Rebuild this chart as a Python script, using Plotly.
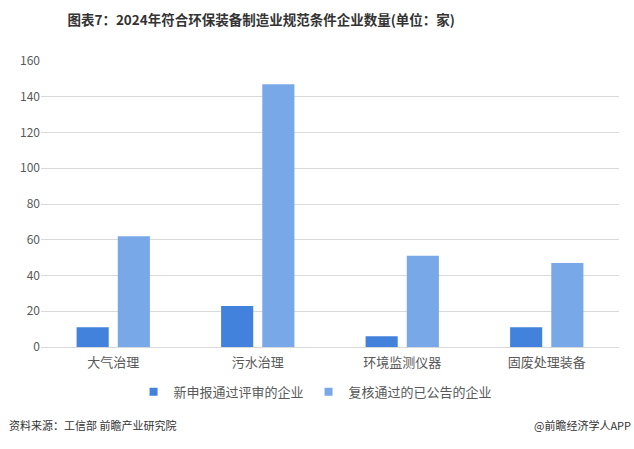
import plotly.graph_objects as go

categories = ["大气治理", "污水治理", "环境监测仪器", "固废处理装备"]
new_applied = [11, 23, 6, 11]
reviewed = [62, 147, 51, 47]
series_names = ["新申报通过评审的企业", "复核通过的已公告的企业"]
colors = ["#4282DD", "#78A8E8"]
y_ticks = [0, 20, 40, 60, 80, 100, 120, 140, 160]

FONT = "Noto Sans CJK SC"

fig = go.Figure()
for name, vals, col in zip(series_names, [new_applied, reviewed], colors):
    fig.add_trace(go.Bar(x=categories, y=vals, name=name, showlegend=False,
                         marker=dict(color=col, line=dict(width=0))))
# legend entries with small square markers
for name, col in zip(series_names, colors):
    fig.add_trace(go.Scatter(x=[None], y=[None], mode="markers", name=name,
                             marker=dict(symbol="square", size=8, color=col)))

fig.update_layout(
    width=634, height=449,
    margin=dict(l=41, r=15, t=61, b=102),
    paper_bgcolor="white", plot_bgcolor="white",
    font=dict(family=FONT, color="#595959", size=12),
    barmode="group", bargap=0.43, bargroupgap=0.22,
    title=dict(text="<b>图表7：2024年符合环保装备制造业规范条件企业数量(单位：家)</b>",
               x=0.412, xanchor="center", y=0.955, yanchor="middle",
               font=dict(family=FONT, size=13.5, color="#333333")),
    showlegend=True,
    legend=dict(orientation="h", x=0.475, xanchor="center", y=-0.157, yanchor="middle",
                font=dict(size=13, color="#595959"), itemwidth=30,
                traceorder="normal"),
    xaxis=dict(showline=True, linecolor="#d9d9d9", ticks="", ticklabelstandoff=3,
               tickfont=dict(size=13, color="#595959")),
    yaxis=dict(range=[0, 160], tickvals=y_ticks, showgrid=True, gridcolor="#d9d9d9",
               zeroline=False, showline=False, ticks="", ticklen=0,
               tickfont=dict(size=12, color="#595959")),
    annotations=[
        dict(text="资料来源：工信部 前瞻产业研究院", xref="paper", yref="paper",
             x=-0.0588, y=-0.273, xanchor="left", yanchor="middle", showarrow=False,
             font=dict(size=11, color="#333333")),
        dict(text="@前瞻经济学人APP", xref="paper", yref="paper",
             x=1.024, y=-0.273, xanchor="right", yanchor="middle", showarrow=False,
             font=dict(size=11, color="#333333")),
    ],
)

fig.write_html("out.html", config={"displayModeBar": False},
               post_script="document.body.style.margin='0';document.body.style.padding='0';")
